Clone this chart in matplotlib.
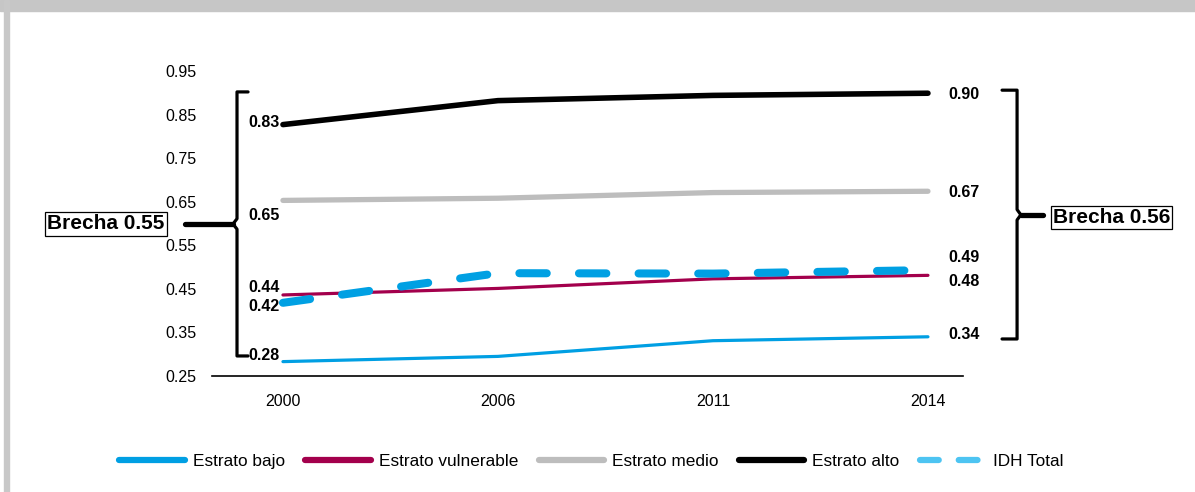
import matplotlib.pyplot as plt
import matplotlib.transforms as mtransforms
from matplotlib.lines import Line2D
from matplotlib.patches import Rectangle

plt.rcParams["font.family"] = ["Liberation Sans", "DejaVu Sans"]

# -------------------------
# Data (IDH por estrato)
# -------------------------
years = ["2000", "2006", "2011", "2014"]
estrato_bajo = [0.283, 0.295, 0.331, 0.340]
estrato_vulnerable = [0.436, 0.451, 0.473, 0.481]
estrato_medio = [0.653, 0.658, 0.671, 0.674]
estrato_alto = [0.827, 0.882, 0.894, 0.899]
idh_total = [0.418, 0.486, 0.485, 0.493]

y_ticks = [0.25, 0.35, 0.45, 0.55, 0.65, 0.75, 0.85, 0.95]

# label offsets (data units) so the end labels do not collide
left_offsets = {"bajo": 0.013, "vulnerable": 0.017, "medio": -0.035, "alto": 0.005, "idh": -0.009}
right_offsets = {"bajo": 0.006, "vulnerable": -0.013, "medio": -0.002, "alto": -0.002, "idh": 0.028}

# -------------------------
# Styles
# -------------------------
c_bajo = "#009FE3"
c_vuln = "#A3004C"
c_medio = "#BDBDBD"
c_alto = "#000000"
c_idh = "#00A0E3"
c_idh_legend = "#4DC4F2"

W, H = 1195, 492
fig = plt.figure(figsize=(W / 100, H / 100), dpi=100)
ax = fig.add_axes([212 / W, 1 - 376 / H, 751 / W, 305 / H])

x = list(range(len(years)))
series = [
    ("bajo", estrato_bajo, c_bajo, 2.3),
    ("vulnerable", estrato_vulnerable, c_vuln, 2.3),
    ("medio", estrato_medio, c_medio, 3.8),
    ("alto", estrato_alto, c_alto, 4.0),
]
for key, vals, col, lw in series:
    ax.plot(x, vals, color=col, lw=lw, solid_capstyle="round", zorder=3)

ax.plot(x, idh_total, color=c_idh, lw=5.8, dashes=(3.4, 4.0), dash_capstyle="round",
        zorder=4)

# end labels
all_series = {
    "bajo": estrato_bajo,
    "vulnerable": estrato_vulnerable,
    "medio": estrato_medio,
    "alto": estrato_alto,
    "idh": idh_total,
}
for key, vals in all_series.items():
    ax.text(-0.014, vals[0] + left_offsets[key], f"{vals[0]:.2f}", ha="right", va="center",
            fontsize=11.5, fontweight="bold", clip_on=False)
    ax.text(3.095, vals[-1] + right_offsets[key], f"{vals[-1]:.2f}", ha="left", va="center",
            fontsize=11.5, fontweight="bold", clip_on=False)

ax.set_xlim(-0.33, 3.163)
ax.set_ylim(0.25, 0.95)
ax.set_xticks(x)
ax.set_xticklabels(years)
ax.set_yticks(y_ticks)
ax.set_yticklabels([f"{t:.2f}" for t in y_ticks])
ax.tick_params(axis="both", length=0, labelsize=11.5)
ax.tick_params(axis="y", pad=11)
ax.tick_params(axis="x", pad=13)
for side in ["top", "right", "left"]:
    ax.spines[side].set_visible(False)
ax.spines["bottom"].set_linewidth(1.2)

# -------------------------
# Brackets (brecha)
# -------------------------
trans = mtransforms.blended_transform_factory(ax.transAxes, ax.transData)


def bracket(xv, xs, xt, top, bottom, mid, d=0.012):
    ax.plot([xs, xv, xv, xt, xv, xv, xs],
            [top, top, mid + d, mid, mid - d, bottom, bottom],
            color="black", lw=2.3, transform=trans, clip_on=False,
            solid_joinstyle="round", solid_capstyle="round")


gap_2000 = round(estrato_alto[0], 2) - round(estrato_bajo[0], 2)
gap_2014 = round(estrato_alto[-1], 2) - round(estrato_bajo[-1], 2)

bracket(0.0333, 0.048, 0.028, 0.902, 0.296, 0.599)
ax.plot([0.028, -0.036], [0.599, 0.599], color="black", lw=3.8, transform=trans,
        clip_on=False, solid_capstyle="round")
ax.text(-0.141, 0.599, f"Brecha {gap_2000:.2f}", transform=trans, ha="center", va="center",
        fontsize=15, fontweight="bold", clip_on=False,
        bbox=dict(boxstyle="square,pad=0.1", fc="white", ec="black", lw=0.9))

bracket(1.072, 1.052, 1.077, 0.906, 0.335, 0.62)
ax.plot([1.077, 1.1065], [0.62, 0.62], color="black", lw=3.8, transform=trans,
        clip_on=False, solid_capstyle="round")
ax.text(1.198, 0.614, f"Brecha {gap_2014:.2f}", transform=trans, ha="center", va="center",
        fontsize=15, fontweight="bold", clip_on=False,
        bbox=dict(boxstyle="square,pad=0.1", fc="white", ec="black", lw=0.9))

# -------------------------
# Legend
# -------------------------
handles = [
    Line2D([], [], color=c_bajo, lw=4.5, solid_capstyle="round"),
    Line2D([], [], color=c_vuln, lw=4.5, solid_capstyle="round"),
    Line2D([], [], color=c_medio, lw=4.5, solid_capstyle="round"),
    Line2D([], [], color=c_alto, lw=4.5, solid_capstyle="round"),
    Line2D([], [], color=c_idh_legend, lw=4.5, dashes=(3.0, 3.2), dash_capstyle="round"),
]
labels = ["Estrato bajo", "Estrato vulnerable", "Estrato medio", "Estrato alto", "IDH Total"]
fig.legend(handles, labels, loc="center", bbox_to_anchor=(0.495, 1 - 461 / H), ncol=5,
           frameon=False, fontsize=12.4, handlelength=3.8, handletextpad=0.45,
           columnspacing=1.2)

# -------------------------
# Frame of the original figure
# -------------------------
fig.patches.append(Rectangle((0, 1 - 10.5 / H), 1, 10.5 / H, transform=fig.transFigure,
                             color="#C6C6C6", zorder=0))
fig.patches.append(Rectangle((4 / W, 0), 5 / W, 1, transform=fig.transFigure,
                             color="#C8C8C8", zorder=0))

fig.savefig("out.png", dpi=100)
